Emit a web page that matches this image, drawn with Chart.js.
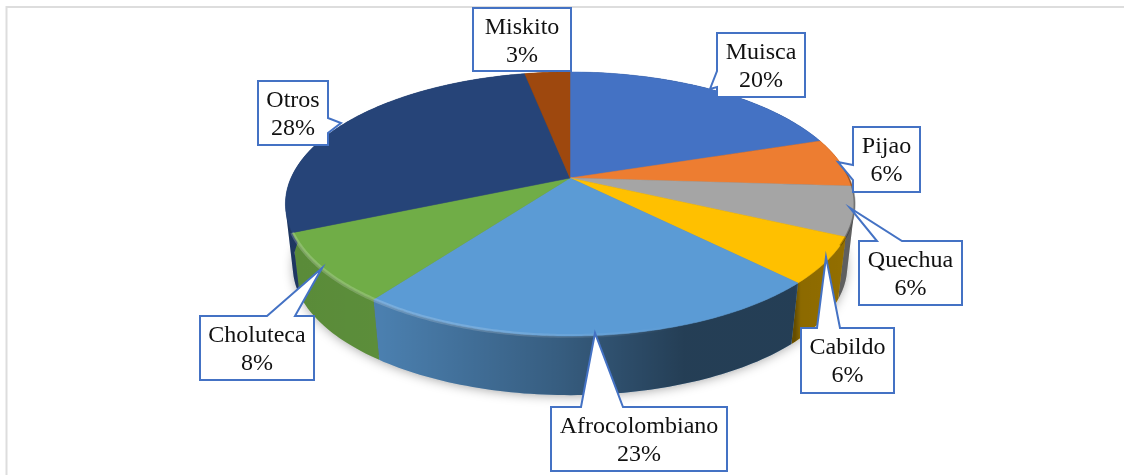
<!DOCTYPE html>
<html>
<head>
<meta charset="utf-8">
<title>Pie</title>
<script src="https://cdn.jsdelivr.net/npm/chart.js@4/dist/chart.umd.js"></script>
<style>
    html, body { margin: 0; padding: 0; background: #fff; overflow: hidden; }
    canvas { display: block; }
</style>
</head>
<body>
<canvas id="pie3d" width="1124" height="475"></canvas>
<script>
var categories = ['Muisca', 'Pijao', 'Quechua', 'Cabildo', 'Afrocolombiano', 'Choluteca', 'Otros', 'Miskito'];
var shares = [20, 6, 6, 5.6, 22.5, 8.4, 28.4, 3.1];
var sliceColors = ['#4472c4', '#ed7d31', '#a5a5a5', '#ffc000', '#5b9bd5', '#70ad47', '#264478', '#9e480e'];

// callout boxes: [x, y, w, h], pointer side, base 1, base 2, tip
var callouts = [
    { box: [717, 33, 88, 64], side: 'left', base: [71, 87], tip: [710, 89] },
    { box: [853, 127, 67, 65], side: 'left', base: [165, 180], tip: [838, 162] },
    { box: [859, 241, 103, 64], side: 'top', base: [877, 902], tip: [850, 208] },
    { box: [801, 328, 93, 65], side: 'top', base: [817, 840], tip: [826, 257] },
    { box: [551, 407, 176, 64], side: 'top', base: [581, 623], tip: [595, 333] },
    { box: [200, 316, 114, 64], side: 'top', base: [267, 295], tip: [322, 268] },
    { box: [258, 81, 70, 64], side: 'right', base: [118, 133], tip: [341, 123] },
    { box: [473, 8, 98, 63], side: null }
];

// pie plane -> screen, gives the tilted look with the near edge larger
var view = { cx: 570, cy: 178, rx: 279, ry: 126.9, k: 0.197, depth: 64, floorR: 0.975 };

function project(angle, r, dy) {
    var u = Math.cos(angle) * r, v = Math.sin(angle) * r;
    var w = 1 - view.k * v;
    return [view.cx + view.rx * u / w, view.cy + view.ry * v / w + (dy || 0)];
}

function traceRim(ctx, a0, a1, r, dy, first) {
    var steps = Math.max(2, Math.ceil(Math.abs(a1 - a0) / 0.01));
    for (var i = 0; i <= steps; i++) {
        var p = project(a0 + (a1 - a0) * i / steps, r, dy);
        if (i === 0 && first) ctx.moveTo(p[0], p[1]); else ctx.lineTo(p[0], p[1]);
    }
}

// wall of a slice, built from thin quads so the silhouette stays convex
function drawSide(ctx, arc, color, shade) {
    var a0 = arc.startAngle, a1 = arc.endAngle;
    var steps = Math.max(2, Math.ceil((a1 - a0) / 0.02));
    ctx.beginPath();
    for (var i = 0; i < steps; i++) {
        var s = a0 + (a1 - a0) * i / steps, e = a0 + (a1 - a0) * (i + 1) / steps;
        var q = [project(s, 1, 0), project(e, 1, 0), project(e, view.floorR, view.depth), project(s, view.floorR, view.depth)];
        // same winding for every quad, otherwise overlaps cancel out near the tangent
        var area = 0;
        for (var j = 0; j < 4; j++) {
            var n = q[(j + 1) % 4];
            area += q[j][0] * n[1] - n[0] * q[j][1];
        }
        if (area < 0) q.reverse();
        ctx.moveTo(q[0][0], q[0][1]);
        ctx.lineTo(q[1][0], q[1][1]);
        ctx.lineTo(q[2][0], q[2][1]);
        ctx.lineTo(q[3][0], q[3][1]);
        ctx.closePath();
    }
    ctx.fillStyle = color;
    ctx.fill();
    ctx.fillStyle = shade;
    ctx.fill();
}

function drawFace(ctx, arc, color) {
    var c = project(0, 0, 0);
    ctx.beginPath();
    ctx.moveTo(c[0], c[1]);
    traceRim(ctx, arc.startAngle, arc.endAngle, 1, 0, false);
    ctx.closePath();
    ctx.fillStyle = color;
    ctx.fill();
    // hide seams between slices
    ctx.strokeStyle = color;
    ctx.lineWidth = 0.5;
    ctx.stroke();
}

function drawCallout(ctx, c, i) {
    var x = c.box[0], y = c.box[1], w = c.box[2], h = c.box[3];
    ctx.beginPath();
    ctx.moveTo(x, y);
    if (c.side === 'top') {
        ctx.lineTo(c.base[0], y); ctx.lineTo(c.tip[0], c.tip[1]); ctx.lineTo(c.base[1], y);
    }
    ctx.lineTo(x + w, y);
    if (c.side === 'right') {
        ctx.lineTo(x + w, c.base[0]); ctx.lineTo(c.tip[0], c.tip[1]); ctx.lineTo(x + w, c.base[1]);
    }
    ctx.lineTo(x + w, y + h);
    ctx.lineTo(x, y + h);
    if (c.side === 'left') {
        ctx.lineTo(x, c.base[1]); ctx.lineTo(c.tip[0], c.tip[1]); ctx.lineTo(x, c.base[0]);
    }
    ctx.closePath();
    ctx.fillStyle = '#fff';
    ctx.fill();
    ctx.strokeStyle = '#4472c4';
    ctx.lineWidth = 2;
    ctx.lineJoin = 'miter';
    ctx.stroke();

    ctx.fillStyle = '#111';
    ctx.font = "24px 'Liberation Serif'";
    ctx.textAlign = 'center';
    ctx.textBaseline = 'middle';
    ctx.fillText(categories[i], x + w / 2, y + 20);
    ctx.fillText(Math.round(shares[i]) + '%', x + w / 2, y + 48);
}

var pie3d = {
    id: 'pie3d',
    beforeDatasetDraw: function(chart) {
        var ctx = chart.ctx, arcs = chart.getDatasetMeta(0).data;

        // frame
        ctx.save();
        ctx.strokeStyle = '#dddddd';
        ctx.lineWidth = 2;
        ctx.beginPath();
        ctx.moveTo(6.5, 475);
        ctx.lineTo(6.5, 7);
        ctx.lineTo(1124, 7);
        ctx.stroke();
        ctx.restore();

        // soft shadow under the disc
        ctx.save();
        ctx.shadowColor = 'rgba(0,0,0,.4)';
        ctx.shadowBlur = 12;
        ctx.shadowOffsetY = 4;
        ctx.beginPath();
        traceRim(ctx, 0, Math.PI * 2, view.floorR * 0.995, view.depth - 3, true);
        ctx.closePath();
        ctx.fillStyle = '#666';
        ctx.fill();
        ctx.restore();

        var shade = ctx.createLinearGradient(285, 0, 855, 0);
        shade.addColorStop(0, 'rgba(0,0,0,.2)');
        shade.addColorStop(0.17, 'rgba(0,0,0,.18)');
        shade.addColorStop(0.48, 'rgba(0,0,0,.4)');
        shade.addColorStop(0.7, 'rgba(0,0,0,.6)');
        shade.addColorStop(0.895, 'rgba(0,0,0,.6)');
        shade.addColorStop(0.905, 'rgba(0,0,0,.45)');
        shade.addColorStop(1, 'rgba(0,0,0,.42)');

        arcs.forEach(function(arc, i) { drawSide(ctx, arc, sliceColors[i], shade); });
        arcs.forEach(function(arc, i) { drawFace(ctx, arc, sliceColors[i]); });

        // light bevel on the near rim
        var bevel = ctx.createLinearGradient(290, 0, 680, 0);
        bevel.addColorStop(0, 'rgba(255,255,255,.2)');
        bevel.addColorStop(0.5, 'rgba(255,255,255,.16)');
        bevel.addColorStop(1, 'rgba(255,255,255,0)');
        ctx.save();
        ctx.beginPath();
        traceRim(ctx, Math.PI * 0.4, Math.PI * 0.87, 1, 0, true);
        ctx.strokeStyle = bevel;
        ctx.lineWidth = 4;
        ctx.stroke();

        // dark fringe on the far right of the rim
        ctx.beginPath();
        traceRim(ctx, -Math.PI * 0.03, Math.PI * 0.16, 1, 0, true);
        ctx.strokeStyle = 'rgba(0,0,0,.3)';
        ctx.lineWidth = 2;
        ctx.stroke();
        ctx.restore();

        callouts.forEach(function(c, i) { drawCallout(ctx, c, i); });
        return false;
    }
};

new Chart(document.getElementById('pie3d'), {
    type: 'pie',
    data: {
        labels: categories,
        datasets: [{
            data: shares,
            backgroundColor: sliceColors,
            borderWidth: 0
        }]
    },
    options: {
        responsive: false,
        animation: false,
        plugins: {
            legend: { display: false },
            tooltip: { enabled: false }
        }
    },
    plugins: [pie3d]
});
</script>
</body>
</html>
